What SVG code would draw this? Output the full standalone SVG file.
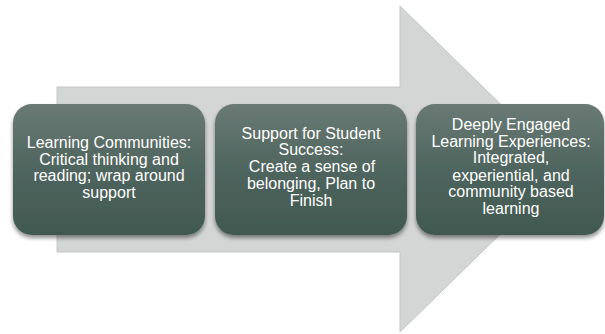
<svg xmlns="http://www.w3.org/2000/svg" width="605" height="334" viewBox="0 0 605 334">
  <defs>
    <linearGradient id="boxGrad" x1="0" y1="0" x2="0" y2="1">
      <stop offset="0" stop-color="#6a7a75"/>
      <stop offset="0.5" stop-color="#4f655e"/>
      <stop offset="1" stop-color="#405950"/>
    </linearGradient>
    <filter id="shadow" x="-10%" y="-10%" width="120%" height="130%">
      <feGaussianBlur in="SourceAlpha" stdDeviation="2"/>
      <feOffset dx="0" dy="2.5" result="b"/>
      <feComponentTransfer><feFuncA type="linear" slope="0.45"/></feComponentTransfer>
      <feMerge><feMergeNode/><feMergeNode in="SourceGraphic"/></feMerge>
    </filter>
  </defs>
  <style>
    .box { fill: url(#boxGrad); filter: url(#shadow); }
    .lbl { font-family: "Liberation Sans", Arial, sans-serif; font-size: 16px; fill: #ffffff; text-anchor: middle; }
    .arrow { fill: #d4d6d6; stroke: #c4c6c6; stroke-width: 1; }
  </style>
  <rect width="605" height="334" fill="#ffffff"/>
  <g id="background-arrow">
    <path class="arrow" d="M57,87 H400 V6 L567,169 L400,332 V252 H57 Z"/>
  </g>
  <g id="connectors"></g>
  <g id="node1">
    <rect class="box" x="13" y="104" width="192" height="131" rx="19" ry="19"/>
    <text class="lbl" x="109" y="148">Learning Communities:</text>
    <text class="lbl" x="109" y="164.5">Critical thinking and</text>
    <text class="lbl" x="109" y="181">reading; wrap around</text>
    <text class="lbl" x="109" y="198">support</text>
  </g>
  <g id="node2">
    <rect class="box" x="215" y="104" width="192" height="131" rx="19" ry="19"/>
    <text class="lbl" x="311" y="138.5">Support for Student</text>
    <text class="lbl" x="311" y="155">Success:</text>
    <text class="lbl" x="312" y="172">Create a sense of</text>
    <text class="lbl" x="311" y="189">belonging, Plan to</text>
    <text class="lbl" x="311" y="205.5">Finish</text>
  </g>
  <g id="node3">
    <rect class="box" x="416" y="104" width="188" height="131" rx="19" ry="19"/>
    <text class="lbl" x="511" y="130">Deeply Engaged</text>
    <text class="lbl" x="511" y="146.7">Learning Experiences:</text>
    <text class="lbl" x="511" y="163.3">Integrated,</text>
    <text class="lbl" x="511" y="180.5">experiential, and</text>
    <text class="lbl" x="511" y="197.3">community based</text>
    <text class="lbl" x="511" y="214">learning</text>
  </g>
</svg>
